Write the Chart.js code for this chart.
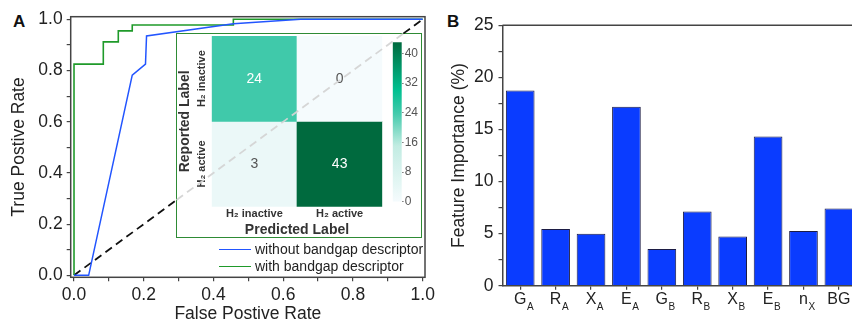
<!DOCTYPE html>
<html><head><meta charset="utf-8">
<script src="https://cdn.jsdelivr.net/npm/chart.js@4.4.1/dist/chart.umd.min.js"></script>
<style>
html,body{margin:0;padding:0;width:852px;height:323px;overflow:hidden;background:#fff;font-family:"Liberation Sans",Arial,sans-serif;}
canvas{position:absolute;}
#inset{position:absolute;left:176px;top:33px;width:246px;height:205px;box-sizing:border-box;border:1.5px solid #2e8b35;background:#fff;z-index:1;}
.panel{position:absolute;font-weight:bold;font-size:17px;line-height:16px;color:#111;}
.leg{position:absolute;left:219px;height:16px;font-size:14px;line-height:16px;color:#222;z-index:5;white-space:nowrap;}
.leg i{display:inline-block;width:32px;height:1.5px;vertical-align:middle;margin-right:4px;position:relative;top:-1px;}
</style></head><body>
<div class="panel" style="left:13px;top:14px;">A</div>
<div class="panel" style="left:447px;top:14px;">B</div>
<div id="inset"></div>
<canvas id="heat" width="206" height="204" style="left:177px;top:34px;z-index:2;"></canvas>
<canvas id="cbar" width="30" height="176" style="left:392px;top:34px;z-index:2;"></canvas>
<canvas id="roc" width="440" height="323" style="left:0;top:0;z-index:3;"></canvas>
<canvas id="bar" width="430" height="323" style="left:440px;top:0;z-index:1;"></canvas>
<div class="leg" style="top:241px;"><i style="background:#2255ff"></i>without bandgap descriptor</div>
<div class="leg" style="top:258px;"><i style="background:#1f9a2a"></i>with bandgap descriptor</div>
<script>
// ---------- DATA ----------
const rocTicks = [0,0.1,0.2,0.3,0.4,0.5,0.6,0.7,0.8,0.9,1.0];
const fprWithout = [0, 0.042, 0.167, 0.205, 0.208, 0.457, 0.65, 1.0];
const tprWithout = [0, 0, 0.782, 0.825, 0.935, 0.983, 1.0, 1.0];
const fprWith = [0, 0, 0.084, 0.084, 0.127, 0.127, 0.167, 0.167, 0.457, 0.457, 1.0];
const tprWith = [0, 0.825, 0.825, 0.912, 0.912, 0.955, 0.955, 0.978, 0.978, 1.0, 1.0];
const chanceX = [0, 0.294, 0.945, 1.0];
const legendLabels = ['without bandgap descriptor', 'with bandgap descriptor'];

const predLabels = ['H₂ inactive', 'H₂ active'];
const reportedLabels = ['H₂ inactive', 'H₂ active'];
const cmReportedInactive = [24, 0];
const cmReportedActive = [3, 43];
const cbarTicks = [0, 8, 16, 24, 32, 40];
const cbarMax = 43;

const features = ['G_A','R_A','X_A','E_A','G_B','R_B','X_B','E_B','n_X','BG'];
const importance = [18.73, 5.44, 4.99, 17.19, 3.52, 7.13, 4.73, 14.32, 5.24, 7.41];
const impTicks = [0,2.5,5,7.5,10,12.5,15,17.5,20,22.5,25];

// ---------- STYLE ----------
const FONT = '"Liberation Sans", Arial, sans-serif';
Chart.defaults.font.family = FONT;
Chart.defaults.color = '#222';
const BLUE = '#2255ff', GREEN = '#1f9a2a', AXIS = '#444';

const stops = [[0,[245,251,253]],[0.35,[194,236,226]],[0.56,[63,201,170]],[0.7,[0,192,144]],[1,[0,106,62]]];
function cmap(v){
  const t = Math.max(0, Math.min(1, v / cbarMax));
  for (let i = 1; i < stops.length; i++) {
    if (t <= stops[i][0]) {
      const a = stops[i-1], b = stops[i], f = (t - a[0]) / (b[0] - a[0]);
      const c = a[1].map((x, k) => Math.round(x + (b[1][k] - x) * f));
      return `rgb(${c[0]},${c[1]},${c[2]})`;
    }
  }
  return 'rgb(0,106,62)';
}

const framePlugin = {
  id: 'frame',
  afterDraw(chart) {
    const {ctx, chartArea: a} = chart;
    ctx.save(); ctx.strokeStyle = AXIS; ctx.lineWidth = 1.5;
    ctx.strokeRect(a.left, a.top, a.right - a.left, a.bottom - a.top);
    ctx.restore();
  }
};

// ---------- ROC ----------
new Chart(document.getElementById('roc'), {
  type: 'line',
  data: { datasets: [
    { label: legendLabels[0], data: fprWithout.map((x, i) => ({x, y: tprWithout[i]})), borderColor: BLUE, borderWidth: 1.5, pointRadius: 0, tension: 0 },
    { label: legendLabels[1], data: fprWith.map((x, i) => ({x, y: tprWith[i]})), borderColor: GREEN, borderWidth: 1.6, pointRadius: 0, tension: 0 },
    { label: 'chance', data: chanceX.map(x => ({x, y: x})), borderColor: '#111', borderWidth: 1.8, borderDash: [8, 5], pointRadius: 0,
      segment: { borderColor: c => c.p0DataIndex === 1 ? 'rgba(212,212,212,0.95)' : '#111' } }
  ]},
  options: {
    responsive: false, animation: false, events: [],
    layout: { padding: { top: 16.7, right: 15, left: 0, bottom: 0 } },
    plugins: { legend: { display: false }, tooltip: { enabled: false } },
    scales: {
      x: { type: 'linear', min: -0.0095, max: 1.0066,
        afterBuildTicks: s => { s.ticks = rocTicks.map(v => ({value: v})); },
        afterFit: s => { s.height = 45.7; },
        grid: { drawOnChartArea: false, drawTicks: true, tickLength: 4, color: AXIS, lineWidth: 1.2 },
        border: { display: false },
        ticks: { autoSkip: false, maxRotation: 0, padding: 3.2, font: { size: 17.5 }, color: '#222',
          callback: v => (Math.round(v * 10) % 2 === 0 ? v.toFixed(1) : '') },
        title: { display: true, text: 'False Postive Rate', font: { size: 17.5, lineHeight: 1 }, padding: { top: 0, bottom: 0 }, color: '#222' } },
      y: { type: 'linear', min: -0.0078, max: 1.0102,
        afterBuildTicks: s => { s.ticks = rocTicks.map(v => ({value: v})); },
        afterFit: s => { s.width = 70.7; },
        grid: { drawOnChartArea: false, drawTicks: true, tickLength: 4, color: AXIS, lineWidth: 1.2 },
        border: { display: false },
        ticks: { autoSkip: false, padding: 4, font: { size: 17.5 }, color: '#222',
          callback: v => (Math.round(v * 10) % 2 === 0 ? v.toFixed(1) : '') },
        title: { display: true, text: 'True Postive Rate', font: { size: 17.5, lineHeight: 1 }, padding: { top: 10.75, bottom: 0 }, color: '#222' } }
    }
  },
  plugins: [framePlugin]
});

// ---------- CONFUSION MATRIX ----------
const mctx = document.createElement('canvas').getContext('2d');
mctx.font = 'bold 11px ' + FONT;
const widestY = Math.max(...reportedLabels.map(l => mctx.measureText(l).width));

const cellText = {
  id: 'cellText',
  afterDatasetsDraw(chart) {
    const ctx = chart.ctx;
    ctx.save();
    ctx.font = '14px ' + FONT; ctx.textAlign = 'center'; ctx.textBaseline = 'middle';
    chart.data.datasets.forEach((ds, i) => {
      chart.getDatasetMeta(i).data.forEach((el, j) => {
        const v = ds.values[j];
        const p = el.getCenterPoint();
        ctx.fillStyle = v > 20 ? '#ffffff' : '#555555';
        ctx.fillText(String(v), p.x, p.y);
      });
    });
    ctx.restore();
  }
};

new Chart(document.getElementById('heat'), {
  type: 'bar',
  data: { labels: predLabels, datasets: [
    { values: cmReportedInactive, data: cmReportedInactive.map(() => [1, 2]), backgroundColor: cmReportedInactive.map(cmap), grouped: false, barPercentage: 1, categoryPercentage: 1, borderWidth: 0 },
    { values: cmReportedActive, data: cmReportedActive.map(() => [0, 1]), backgroundColor: cmReportedActive.map(cmap), grouped: false, barPercentage: 1, categoryPercentage: 1, borderWidth: 0 }
  ]},
  options: {
    responsive: false, animation: false, events: [],
    layout: { padding: { top: 2, right: 0.7, left: 0, bottom: 0 } },
    plugins: { legend: { display: false }, tooltip: { enabled: false } },
    scales: {
      x: { afterFit: s => { s.height = 31.3; },
        grid: { display: false, drawTicks: false }, border: { display: false },
        ticks: { padding: 0.7, maxRotation: 0, font: { size: 11, weight: 'bold' }, color: '#333' },
        title: { display: true, text: 'Predicted Label', font: { size: 14, weight: 'bold', lineHeight: 1 }, padding: { top: 0, bottom: 0.5 }, color: '#333' } },
      y: { type: 'linear', min: 0, max: 2,
        afterBuildTicks: s => { s.ticks = [{value: 0.5}, {value: 1.5}]; },
        afterFit: s => { s.width = 34.7; },
        grid: { display: false, drawTicks: false }, border: { display: false },
        ticks: { minRotation: 90, maxRotation: 90, crossAlign: 'center', padding: 10 - widestY / 2,
          font: { size: 11, weight: 'bold' }, color: '#333',
          callback: v => (v > 1 ? reportedLabels[0] : reportedLabels[1]) },
        title: { display: true, text: 'Reported Label', font: { size: 14, weight: 'bold', lineHeight: 1 }, padding: { top: 1, bottom: 0 }, color: '#333' } }
    }
  },
  plugins: [cellText]
});

// ---------- COLOR BAR ----------
new Chart(document.getElementById('cbar'), {
  type: 'bar',
  data: { labels: [''], datasets: [{ data: [cbarMax], barPercentage: 1, categoryPercentage: 1, borderWidth: 0,
    backgroundColor: c => {
      const a = c.chart.chartArea; if (!a) return '#ccc';
      const g = c.chart.ctx.createLinearGradient(0, a.bottom, 0, a.top);
      for (let k = 0; k <= 20; k++) g.addColorStop(k / 20, cmap(cbarMax * k / 20));
      return g;
    } }] },
  options: {
    responsive: false, animation: false, events: [],
    layout: { padding: { top: 2, right: 0, left: 0.7, bottom: 3.3 } },
    plugins: { legend: { display: false }, tooltip: { enabled: false } },
    scales: {
      x: { display: false },
      y: { position: 'right', min: 0, max: cbarMax,
        afterBuildTicks: s => { s.ticks = cbarTicks.map(v => ({value: v})); },
        afterFit: s => { s.width = 20.3; },
        grid: { drawOnChartArea: false, tickLength: 2, color: '#888' }, border: { display: false },
        ticks: { padding: 1, font: { size: 12 }, color: '#555' } }
    }
  }
});

// ---------- FEATURE IMPORTANCE ----------
const mainLabels = features.map(f => f.split('_')[0]);
const subLabels = features.map(f => f.split('_')[1] || '');
const subPlugin = {
  id: 'subs',
  afterDraw(chart) {
    const {ctx, chartArea: a} = chart;
    const xs = chart.scales.x;
    ctx.save();
    ctx.strokeStyle = AXIS; ctx.lineWidth = 1.5;
    ctx.beginPath(); ctx.moveTo(a.left, a.top); ctx.lineTo(a.right, a.top); ctx.stroke();
    const mainCenter = xs.top + 4 + 0 + 16 * 1.2 / 2;
    subLabels.forEach((s, i) => {
      if (!s) return;
      ctx.font = '16px ' + FONT;
      const w = ctx.measureText(mainLabels[i]).width;
      const x = xs.getPixelForValue(i) + w / 2 + 0.5;
      ctx.font = '10px ' + FONT; ctx.fillStyle = '#222'; ctx.textAlign = 'left'; ctx.textBaseline = 'middle';
      ctx.fillText(s, x, mainCenter + 8);
    });
    ctx.restore();
  }
};

new Chart(document.getElementById('bar'), {
  type: 'bar',
  data: { labels: mainLabels, datasets: [{ data: importance, backgroundColor: '#0a3cff', borderColor: '#1c1c44', borderWidth: 1, barPercentage: 0.81, categoryPercentage: 1 }] },
  options: {
    responsive: false, animation: false, events: [],
    layout: { padding: { top: 25.3, right: 13.4, left: 0, bottom: 0 } },
    plugins: { legend: { display: false }, tooltip: { enabled: false } },
    scales: {
      x: { afterFit: s => { s.height = 37.3; },
        grid: { drawOnChartArea: false, offset: false, tickLength: 4, color: AXIS, lineWidth: 1.2 },
        border: { color: AXIS, width: 1.5 },
        ticks: { padding: 0, maxRotation: 0, autoSkip: false, font: { size: 16 }, color: '#222' } },
      y: { min: 0, max: 25,
        afterBuildTicks: s => { s.ticks = impTicks.map(v => ({value: v})); },
        afterFit: s => { s.width = 62.5; },
        grid: { drawOnChartArea: false, tickLength: 4, color: AXIS, lineWidth: 1.2 },
        border: { color: AXIS, width: 1.5 },
        ticks: { padding: 5, font: { size: 17.5 }, color: '#222', callback: v => (v % 5 === 0 ? String(v) : '') },
        title: { display: true, text: 'Feature Importance (%)', font: { size: 17.5, lineHeight: 1 }, padding: { top: 10.25, bottom: 0 }, color: '#222' } }
    }
  },
  plugins: [subPlugin]
});
</script>
</body></html>
